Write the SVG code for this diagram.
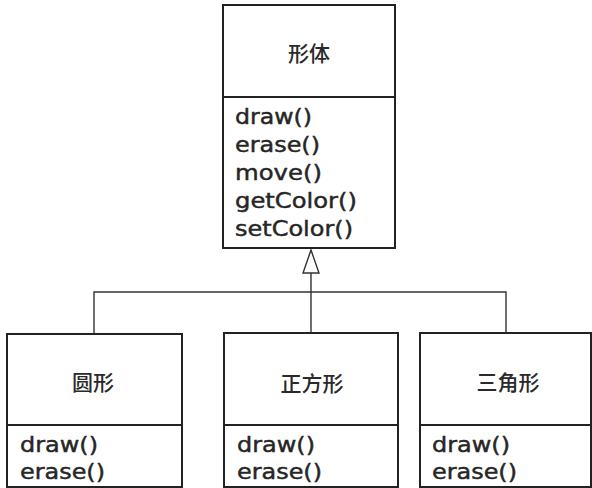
<svg xmlns="http://www.w3.org/2000/svg" width="592" height="488" viewBox="0 0 592 488">
<style>
.box{fill:#fff;stroke:#222;stroke-width:2}
.div{stroke:#222;stroke-width:2}
.con{fill:none;stroke:#333;stroke-width:1.4}
.m{font-family:"DejaVu Sans",Verdana,sans-serif;font-size:21px;fill:#262626;stroke:#262626;stroke-width:0.45}
.t{font-family:"Noto Sans CJK SC","DejaVu Sans",sans-serif;font-size:21px;font-weight:500;fill:#2a2a2a;text-anchor:middle}
</style>
<rect width="592" height="488" fill="#fff"/>
<g id="connectors">
<polyline class="con" points="94,334 94,292 506,292 506,333"/>
<line class="con" x1="311" y1="273" x2="311" y2="333"/>
<polygon points="311,250 303,273 319,273" fill="#fff" stroke="#333" stroke-width="1.4"/>
</g>
<g id="shape">
<rect class="box" x="223" y="5" width="172" height="243"/>
<line class="div" x1="223" y1="97" x2="395" y2="97"/>
<text class="t" x="309" y="61">形体</text>
<text class="m" x="235" y="124" textLength="77" lengthAdjust="spacingAndGlyphs">draw()</text>
<text class="m" x="235" y="152" textLength="85" lengthAdjust="spacingAndGlyphs">erase()</text>
<text class="m" x="235" y="180" textLength="87" lengthAdjust="spacingAndGlyphs">move()</text>
<text class="m" x="235" y="208" textLength="122" lengthAdjust="spacingAndGlyphs">getColor()</text>
<text class="m" x="235" y="236" textLength="118" lengthAdjust="spacingAndGlyphs">setColor()</text>
</g>
<g id="circle">
<rect class="box" x="7" y="334" width="175" height="153"/>
<line class="div" x1="7" y1="425" x2="182" y2="425"/>
<text class="t" x="93" y="390">圆形</text>
<text class="m" x="20" y="452" textLength="78" lengthAdjust="spacingAndGlyphs">draw()</text>
<text class="m" x="20" y="479" textLength="85" lengthAdjust="spacingAndGlyphs">erase()</text>
</g>
<g id="square">
<rect class="box" x="224" y="333" width="174" height="154"/>
<line class="div" x1="224" y1="425" x2="398" y2="425"/>
<text class="t" x="312" y="391">正方形</text>
<text class="m" x="237" y="452" textLength="78" lengthAdjust="spacingAndGlyphs">draw()</text>
<text class="m" x="237" y="479" textLength="85" lengthAdjust="spacingAndGlyphs">erase()</text>
</g>
<g id="triangle">
<rect class="box" x="420" y="333" width="171" height="154"/>
<line class="div" x1="420" y1="425" x2="591" y2="425"/>
<text class="t" x="508" y="390">三角形</text>
<text class="m" x="432" y="452" textLength="78" lengthAdjust="spacingAndGlyphs">draw()</text>
<text class="m" x="432" y="479" textLength="85" lengthAdjust="spacingAndGlyphs">erase()</text>
</g>
</svg>
